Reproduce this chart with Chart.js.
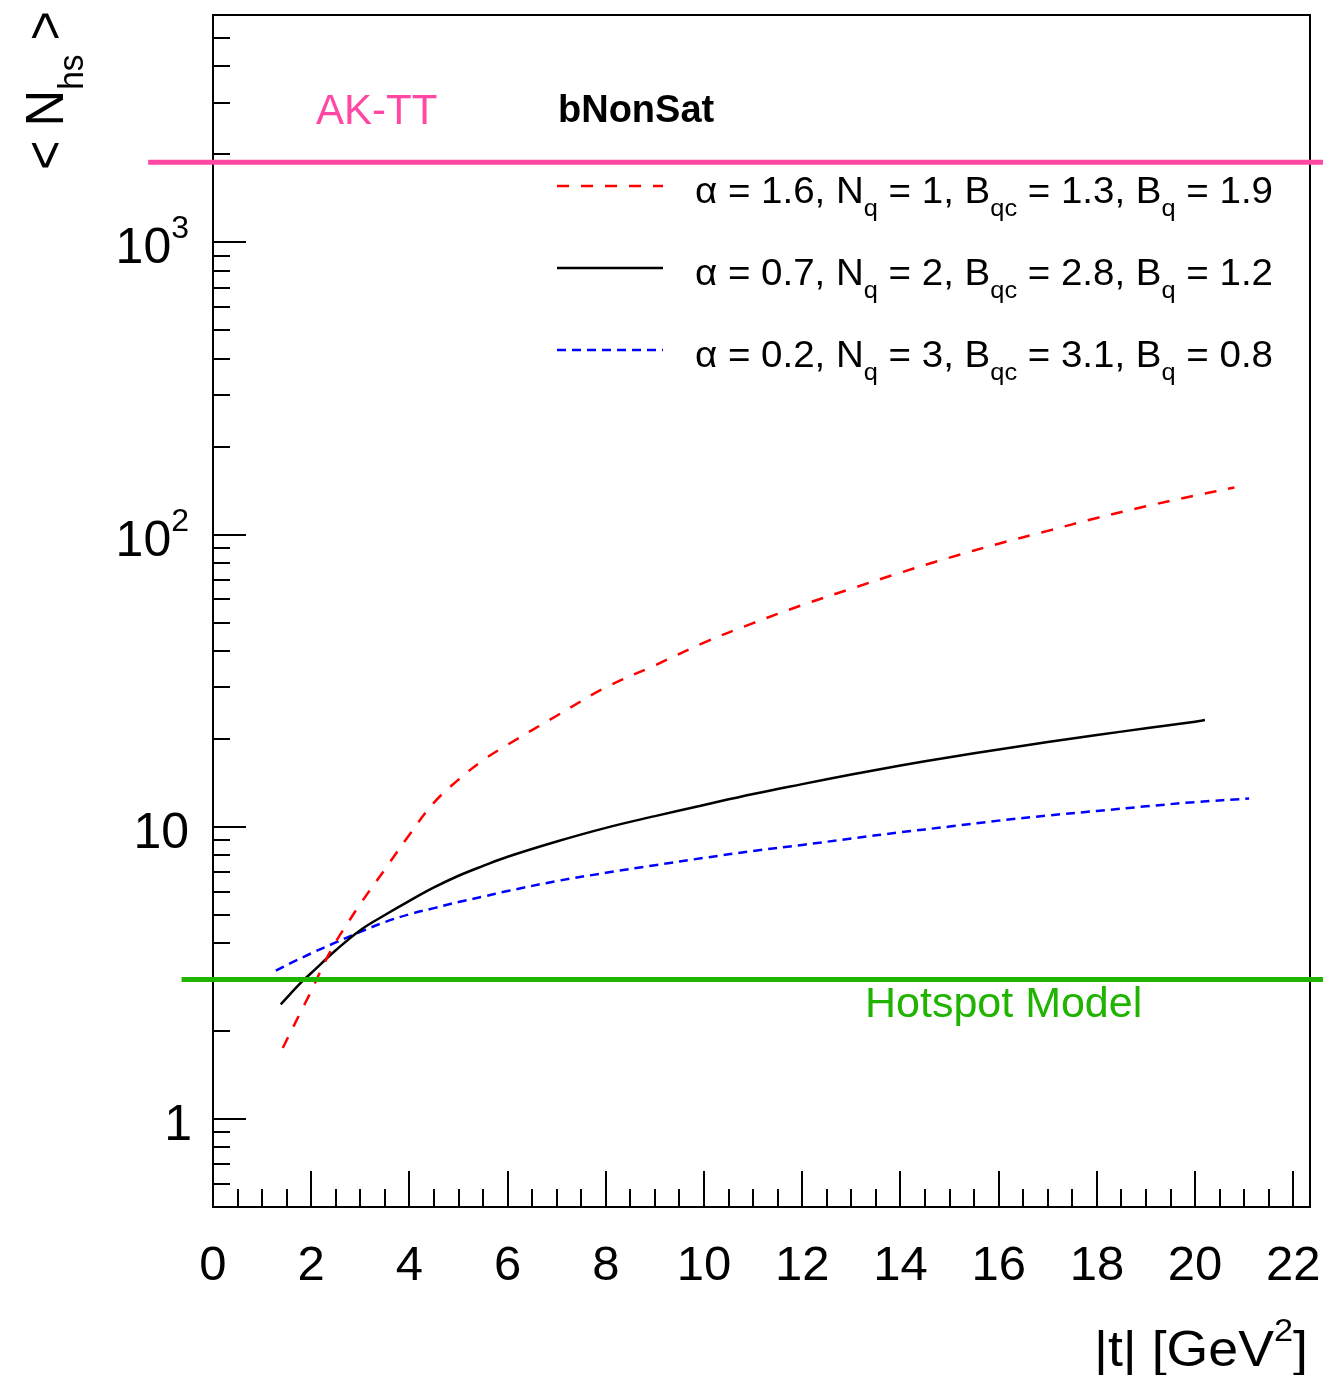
<!DOCTYPE html>
<html>
<head>
<meta charset="utf-8">
<title>Number of hotspots vs |t|</title>
<script src="https://cdn.jsdelivr.net/npm/chart.js@4.4.1/dist/chart.umd.min.js"></script>
<style>
html, body { margin: 0; padding: 0; background: #ffffff; }
canvas { display: block; }
</style>
</head>
<body>
<canvas id="chart" width="1323" height="1375"></canvas>
<script>
// <N_hs> as a function of |t| [GeV^2] for the three parameter sets
const tSet1 = [1.42, 1.8, 2, 2.25, 2.5, 2.75, 3, 3.5, 4, 4.5, 5, 5.5, 6, 7, 8, 9, 10, 11, 12, 13, 14, 15, 16, 17, 18, 19, 20, 20.8];
const nSet1 = [1.75, 2.35, 2.74, 3.37, 4.04, 4.70, 5.45, 7.15, 9.4, 12.1, 14.5, 16.9, 19.1, 24.0, 30.0, 35.7, 42.7, 49.8, 57.4, 65.3, 74.1, 83.4, 93.1, 103, 114, 125, 136, 145];

const tSet2 = [1.38, 1.8, 2, 2.5, 3, 3.5, 4, 4.5, 5, 5.5, 6, 7, 8, 9, 10, 11, 12, 13, 14, 15, 16, 17, 18, 19, 20, 20.2];
const nSet2 = [2.47, 2.94, 3.16, 3.78, 4.43, 4.99, 5.58, 6.2, 6.8, 7.35, 7.9, 8.91, 9.92, 10.88, 11.88, 12.95, 14.0, 15.1, 16.2, 17.3, 18.4, 19.5, 20.6, 21.75, 22.9, 23.2];

const tSet3 = [1.28, 1.6, 2, 2.5, 3, 3.5, 4, 4.5, 5, 5.5, 6, 7, 8, 9, 10, 11, 12, 13, 14, 15, 16, 17, 18, 19, 20, 21.1];
const nSet3 = [3.22, 3.43, 3.69, 4.02, 4.37, 4.72, 5.02, 5.27, 5.53, 5.77, 6.03, 6.52, 6.96, 7.39, 7.83, 8.27, 8.67, 9.12, 9.58, 10.02, 10.5, 10.93, 11.33, 11.75, 12.15, 12.5];

// model parameters of each set
const alphaVals = [1.6, 0.7, 0.2];
const nqVals = [1, 2, 3];
const bqcVals = [1.3, 2.8, 3.1];
const bqVals = [1.9, 1.2, 0.8];

// reference levels and their horizontal extent
const akttLevel = 1880;
const hotspotLevel = 3;
const akttSpan = [-1.32, 23.5];
const hotspotSpan = [-0.64, 23.5];

// axes
const xRange = [0, 22.34];
const yRange = [0.5, 6000];
const xMajorTicks = [0, 2, 4, 6, 8, 10, 12, 14, 16, 18, 20, 22];
const yMajorTicks = [1, 10, 100, 1000];

const FONT = '"Liberation Sans", Arial, Helvetica, sans-serif';
const PINK = '#ff47a3';
const GREEN = '#20b400';

function zip(xs, ys) { return xs.map((x, i) => ({ x: x, y: ys[i] })); }

function segFont(seg, size, weight) {
  const k = seg.k || 'n';
  const s = k === 'n' ? size : size * (k === 'sub' ? 0.66 : 0.64);
  return (weight || 'normal') + ' ' + s.toFixed(2) + 'px ' + FONT;
}
function measureRich(ctx, segs, size, weight) {
  let w = 0;
  segs.forEach(sg => { ctx.font = segFont(sg, size, weight); w += ctx.measureText(sg.s).width; });
  return w;
}
// text with sub/superscripts; optional horizontal fit to a given width
function drawRich(ctx, segs, x, y, o) {
  const size = o.size;
  const w = measureRich(ctx, segs, size, o.weight);
  const sx = o.fit ? o.fit / w : 1;
  ctx.save();
  ctx.translate(x, y);
  if (o.rotate) ctx.rotate(o.rotate);
  const x0 = o.align === 'right' ? -w * sx : (o.align === 'center' ? -w * sx / 2 : 0);
  ctx.translate(x0, 0);
  ctx.scale(sx, 1);
  ctx.fillStyle = o.color || '#000';
  ctx.textBaseline = 'alphabetic';
  ctx.textAlign = 'left';
  let cx = 0;
  segs.forEach(sg => {
    ctx.font = segFont(sg, size, o.weight);
    const dy = sg.k === 'sub' ? size * 0.37 : (sg.k === 'sup' ? -size * 0.5 : 0);
    ctx.fillText(sg.s, cx, dy);
    cx += ctx.measureText(sg.s).width;
  });
  ctx.restore();
}

function legendSegs(i) {
  return [
    { s: '\u03b1 = ' + alphaVals[i] + ', N' }, { s: 'q', k: 'sub' },
    { s: ' = ' + nqVals[i] + ', B' }, { s: 'qc', k: 'sub' },
    { s: ' = ' + bqcVals[i] + ', B' }, { s: 'q', k: 'sub' },
    { s: ' = ' + bqVals[i] }
  ];
}

const frameAndTicks = {
  id: 'frameAndTicks',
  beforeDatasetsDraw(chart) {
    const { ctx, chartArea: a, scales: { x, y } } = chart;
    ctx.save();
    ctx.strokeStyle = '#000';
    ctx.lineWidth = 2;
    ctx.strokeRect(a.left, a.top, a.right - a.left, a.bottom - a.top);
    x.ticks.forEach(t => {
      const px = Math.round(x.getPixelForValue(t.value));
      const len = t.major ? 36 : 18;
      ctx.beginPath(); ctx.moveTo(px, a.bottom); ctx.lineTo(px, a.bottom - len); ctx.stroke();
    });
    y.ticks.forEach(t => {
      const py = Math.round(y.getPixelForValue(t.value));
      const len = t.major ? 33 : 17;
      ctx.beginPath(); ctx.moveTo(a.left, py); ctx.lineTo(a.left + len, py); ctx.stroke();
    });
    ctx.restore();
  },
  afterDatasetsDraw(chart) {
    const { ctx, chartArea: a, scales: { x, y } } = chart;
    ctx.save();
    // x tick labels
    ctx.fillStyle = '#000';
    ctx.font = '49px ' + FONT;
    ctx.textAlign = 'center';
    ctx.textBaseline = 'alphabetic';
    x.ticks.filter(t => t.major).forEach(t => {
      ctx.fillText(String(t.value), x.getPixelForValue(t.value), a.bottom + 73);
    });
    // y tick labels
    y.ticks.filter(t => t.major).forEach(t => {
      const e = Math.round(Math.log10(t.value));
      const segs = e <= 1 ? [{ s: String(t.value) }] : [{ s: '10' }, { s: String(e), k: 'sup' }];
      const right = e === 0 ? 192 : 189;
      drawRich(ctx, segs, right, y.getPixelForValue(t.value) + 21, { size: 50, align: 'right' });
    });
    // axis titles
    drawRich(ctx, [{ s: '|t| [GeV' }, { s: '2', k: 'sup' }, { s: ']' }], 1308, 1366,
      { size: 50, align: 'right', fit: 214 });
    drawRich(ctx, [{ s: '< N' }, { s: 'hs', k: 'sub' }, { s: ' >' }], 63, 170,
      { size: 54, align: 'left', rotate: -Math.PI / 2, fit: 159 });
    // labels of the reference levels
    ctx.font = '42px ' + FONT;
    ctx.textAlign = 'left';
    ctx.fillStyle = PINK;
    ctx.fillText('AK-TT', 316, 124);
    ctx.font = '43px ' + FONT;
    ctx.fillStyle = GREEN;
    ctx.fillText('Hotspot Model', 865, 1017);
    ctx.font = 'bold 38px ' + FONT;
    ctx.fillStyle = '#000';
    ctx.fillText('bNonSat', 558, 122);
    // legend
    const curves = chart.data.datasets.filter(d => d.inLegend);
    curves.forEach((d, i) => {
      const ly = 186 + 82 * i;
      ctx.save();
      ctx.strokeStyle = d.borderColor;
      ctx.lineWidth = d.borderWidth;
      ctx.setLineDash(d.borderDash || []);
      ctx.beginPath(); ctx.moveTo(557, ly); ctx.lineTo(663, ly); ctx.stroke();
      ctx.restore();
      drawRich(ctx, legendSegs(i), 695, 203 + 82 * i, { size: 36, align: 'left', fit: 578 });
    });
    ctx.restore();
  }
};

new Chart(document.getElementById('chart'), {
  type: 'line',
  data: {
    datasets: [
      { label: 'AK-TT', data: [{ x: akttSpan[0], y: akttLevel }, { x: akttSpan[1], y: akttLevel }],
        borderColor: PINK, borderWidth: 5, pointRadius: 0, clip: false, tension: 0 },
      { label: 'Hotspot Model', data: [{ x: hotspotSpan[0], y: hotspotLevel }, { x: hotspotSpan[1], y: hotspotLevel }],
        borderColor: GREEN, borderWidth: 5, pointRadius: 0, clip: false, tension: 0 },
      { label: 'set 1', inLegend: true, data: zip(tSet1, nSet1), borderColor: '#ff0000', borderWidth: 2.5,
        borderDash: [12, 12], pointRadius: 0, tension: 0.4 },
      { label: 'set 2', inLegend: true, data: zip(tSet2, nSet2), borderColor: '#000000', borderWidth: 2.5,
        pointRadius: 0, tension: 0.4 },
      { label: 'set 3', inLegend: true, data: zip(tSet3, nSet3), borderColor: '#0000ff', borderWidth: 2.5,
        borderDash: [9, 6], pointRadius: 0, tension: 0.4 }
    ]
  },
  options: {
    responsive: false,
    animation: false,
    devicePixelRatio: 1,
    layout: { padding: { top: 15, right: 13, left: 0, bottom: 0 } },
    plugins: { legend: { display: false }, tooltip: { enabled: false } },
    elements: { line: { fill: false } },
    scales: {
      x: {
        type: 'linear', position: 'bottom', min: xRange[0], max: xRange[1],
        grid: { display: false }, border: { display: false }, ticks: { display: false },
        afterBuildTicks(s) {
          const out = [];
          for (let v = 0; v <= xRange[1] + 1e-9; v += 0.5) {
            out.push({ value: v, major: xMajorTicks.includes(v) });
          }
          s.ticks = out;
        },
        afterFit(s) { s.height = 168; }
      },
      y: {
        type: 'logarithmic', position: 'left', min: yRange[0], max: yRange[1],
        grid: { display: false }, border: { display: false }, ticks: { display: false },
        afterBuildTicks(s) {
          const out = [];
          for (let e = -1; e <= 3; e++) {
            for (let m = 1; m <= 9; m++) {
              const v = +(m * Math.pow(10, e)).toPrecision(3);
              if (v >= yRange[0] - 1e-9 && v <= yRange[1] + 1e-9) {
                out.push({ value: v, major: yMajorTicks.includes(v) });
              }
            }
          }
          s.ticks = out;
        },
        afterFit(s) { s.width = 213; }
      }
    }
  },
  plugins: [frameAndTicks]
});
</script>
</body>
</html>
